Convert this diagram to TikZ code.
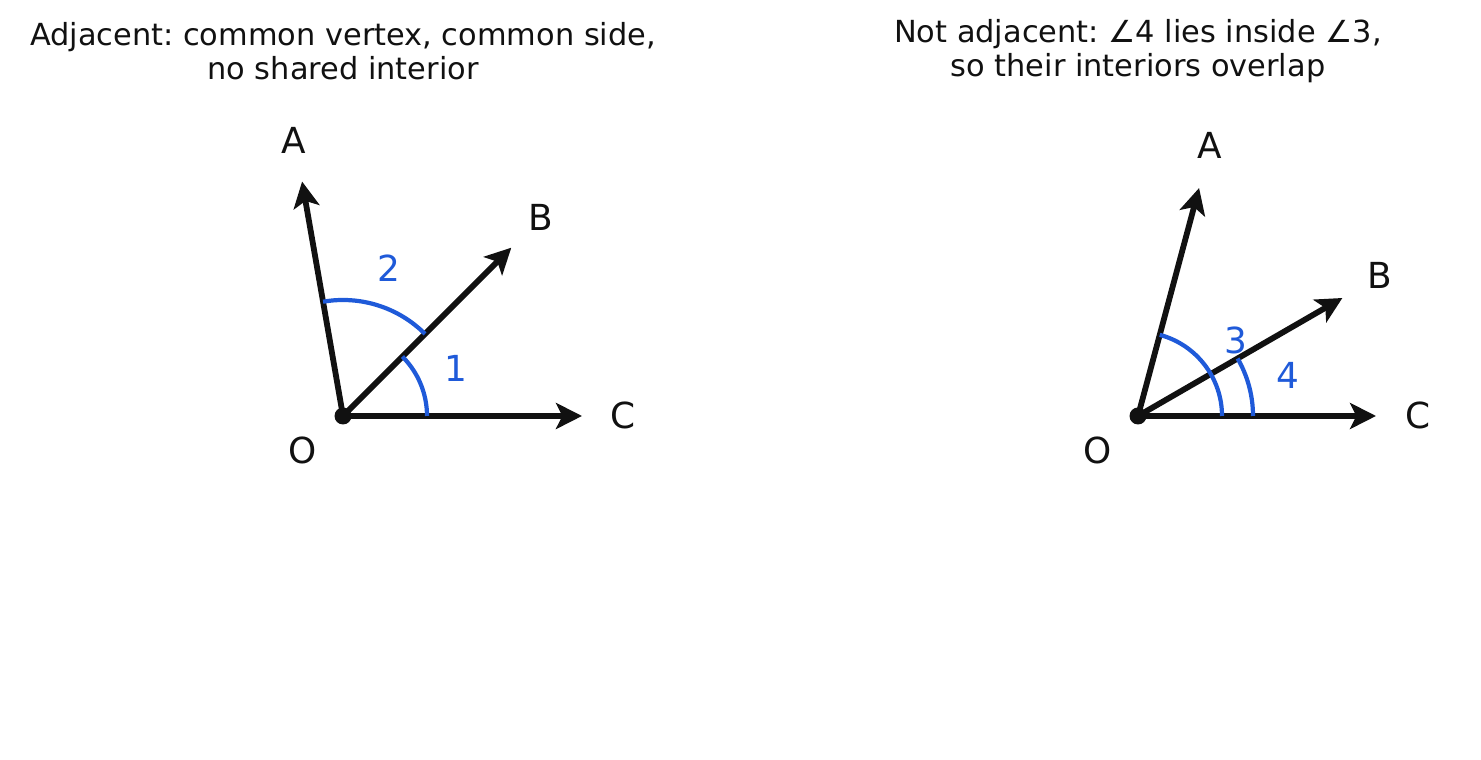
\documentclass[tikz,border=0pt]{standalone}
\usepackage{fontspec}
\setmainfont{DejaVu Sans}
\usetikzlibrary{arrows.meta}
\definecolor{inkblack}{HTML}{111111}
\definecolor{arcblue}{HTML}{1F5AD9}
\frenchspacing
\begin{document}
\begin{tikzpicture}[
    ray/.style={inkblack, line width=1.65pt, -{Stealth[length=7.4pt, width=7.4pt, inset=1.8pt]}},
    arcline/.style={arcblue, line width=1.2pt},
    ptlabel/.style={inkblack, font=\fontsize{10.2}{11}\selectfont},
    numlabel/.style={arcblue, font=\fontsize{10.2}{11}\selectfont},
    titlelabel/.style={inkblack, align=center, font=\fontsize{8.65}{9.7}\selectfont}
  ]
  \useasboundingbox (0,0) rectangle (14.81,7.60);
  % left: adjacent angles
  \node[titlelabel] (title1) at (3.43,7.09) {Adjacent: common vertex, common side,\\no shared interior};
  \begin{scope}[shift={(3.43,3.44)}]
    \coordinate (O1) at (0,0);
    \coordinate (A1) at (99.9:2.38);
    \coordinate (B1) at (45:2.38);
    \coordinate (C1) at (0:2.39);
    \draw[ray] (O1) -- (A1);
    \draw[ray] (O1) -- (B1);
    \draw[ray] (O1) -- (C1);
    \draw[arcline] (0.84,0) arc[start angle=0, end angle=45, radius=0.84];
    \draw[arcline] (45:1.16) arc[start angle=45, end angle=99.9, radius=1.16];
    \fill[inkblack] (O1) circle (0.085);
    \node[ptlabel] (labA1) at (-0.49,2.76) {A};
    \node[ptlabel] (labB1) at (1.98,1.99) {B};
    \node[ptlabel] (labC1) at (2.80,0.01) {C};
    \node[ptlabel] (labO1) at (-0.40,-0.34) {O};
    \node[numlabel] (num1) at (1.13,0.48) {1};
    \node[numlabel] (num2) at (0.46,1.48) {2};
  \end{scope}
  % right: angle inside angle
  \node[titlelabel] (title2) at (11.38,7.09) {Not adjacent: ∠4 lies inside ∠3,\\so their interiors overlap};
  \begin{scope}[shift={(11.38,3.44)}]
    \coordinate (O2) at (0,0);
    \coordinate (A2) at (75:2.36);
    \coordinate (B2) at (30:2.36);
    \coordinate (C2) at (0:2.38);
    \draw[ray] (O2) -- (A2);
    \draw[ray] (O2) -- (B2);
    \draw[ray] (O2) -- (C2);
    \draw[arcline] (0.84,0) arc[start angle=0, end angle=75, radius=0.84];
    \draw[arcline] (1.15,0) arc[start angle=0, end angle=30, radius=1.15];
    \fill[inkblack] (O2) circle (0.085);
    \node[ptlabel] (labA2) at (0.72,2.71) {A};
    \node[ptlabel] (labB2) at (2.42,1.41) {B};
    \node[ptlabel] (labC2) at (2.80,0.01) {C};
    \node[ptlabel] (labO2) at (-0.40,-0.34) {O};
    \node[numlabel] (num3) at (0.98,0.76) {3};
    \node[numlabel] (num4) at (1.50,0.41) {4};
  \end{scope}
\end{tikzpicture}
\end{document}
